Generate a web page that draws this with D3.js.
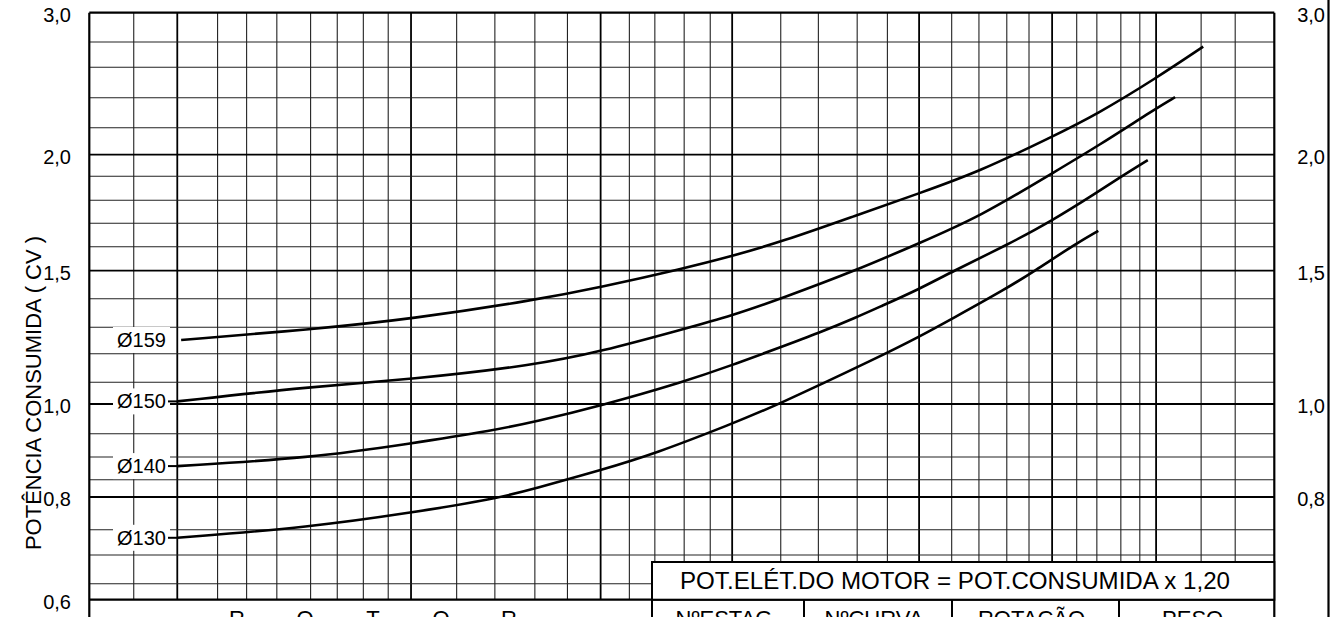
<!DOCTYPE html>
<html>
<head>
<meta charset="utf-8">
<script src="https://cdn.jsdelivr.net/npm/d3@7"></script>
<style>
  body { margin: 0; background: #fff; }
  svg text { font-family: "Liberation Sans", Arial, sans-serif; fill: #000; }
</style>
</head>
<body>
<div id="chart"></div>
<script>
// vertical lines of the chart paper (flow axis, no labels in this crop)
const qGrid = [0, 1.50, 2.97, 4.33, 5.31, 6.33, 7.47, 8.37, 9.25, 10.09, 10.86, 12.40, 13.69, 15.04, 16.14,
  17.26, 18.23, 19.09, 20.08, 20.96, 21.70, 23.34, 24.61, 25.92, 26.94, 28.01, 29.11, 30.03, 30.97, 31.72,
  32.50, 33.33, 34.01, 34.82, 35.46, 36.01, 37.53, 38.68, 40];
const qMajor = [2.97, 10.86, 17.26, 21.70, 28.01, 32.50, 36.01];

// horizontal lines (potência consumida, CV)
const potGrid = [3.0, 2.8, 2.6, 2.4, 2.2, 2.0, 1.9, 1.8, 1.7, 1.6, 1.5, 1.4, 1.3, 1.2, 1.1, 1.0,
  0.95, 0.9, 0.85, 0.8, 0.75, 0.7, 0.65, 0.6];
const potMajor = [2.0, 1.5, 1.0, 0.8];
const ticksLeft = [3.0, 2.0, 1.5, 1.0, 0.8, 0.6];
const ticksRight = [3.0, 2.0, 1.5, 1.0, 0.8];

// curves [Q, CV]
const d159 = [[3.10, 1.252], [7.48, 1.292], [10.86, 1.329], [15.04, 1.395], [17.26, 1.441], [20.08, 1.51],
  [21.70, 1.561], [23.34, 1.620], [25.92, 1.736], [28.01, 1.829], [30.03, 1.921], [32.50, 2.133],
  [34.01, 2.289], [36.01, 2.528], [37.60, 2.763]];
const d150 = [[2.97, 1.012], [7.48, 1.080], [10.86, 1.110], [15.04, 1.160], [17.26, 1.208], [20.08, 1.294],
  [21.70, 1.341], [23.34, 1.40], [25.92, 1.503], [28.01, 1.615], [30.06, 1.729], [32.50, 1.914],
  [34.01, 2.059], [36.01, 2.329], [36.65, 2.403]];
const d140 = [[2.97, 0.880], [7.48, 0.898], [10.86, 0.929], [13.69, 0.956], [15.04, 0.970], [17.26, 0.997],
  [20.08, 1.102], [21.70, 1.160], [23.34, 1.225], [24.61, 1.278], [25.92, 1.336], [26.69, 1.372],
  [28.01, 1.434], [29.11, 1.496], [30.97, 1.607], [32.50, 1.711], [34.01, 1.832], [34.82, 1.898], [35.73, 1.975]];
const d130 = [[2.97, 0.734], [7.48, 0.754], [10.86, 0.776], [13.69, 0.797], [15.04, 0.824], [17.26, 0.871],
  [19.09, 0.907], [21.70, 0.967], [23.08, 0.995], [26.69, 1.190], [28.01, 1.264], [29.11, 1.329],
  [30.97, 1.437], [31.86, 1.496], [33.33, 1.615], [34.06, 1.668]];

const curveNames = ["Ø159", "Ø150", "Ø140", "Ø130"];
const curveData = [d159, d150, d140, d130];

const tableTitle = "POT.ELÉT.DO MOTOR = POT.CONSUMIDA x 1,20";
const tableCols = ["NºESTAG", "NºCURVA", "ROTAÇÃO", "PESO"];
const tableLeft = "ROTOR";

const width = 1342, height = 617;
// the paper scale is not uniform, so y is piecewise over every printed line
const paperY = [12.7, 42, 67.3, 97.7, 127.7, 154.7, 176.3, 200.3, 223.3, 246.7, 270.7, 298.7, 327.3,
  353.7, 382.3, 404, 433.7, 457, 479.7, 497, 529.7, 555, 583.7, 599.7];

const x = d3.scaleLinear().domain([0, 40]).range([89.3, 1274.3]);
const y = d3.scaleLinear().domain(potGrid).range(paperY);
const fmt = v => v.toFixed(1).replace(".", ",");

const svg = d3.select("#chart").append("svg")
  .attr("width", width)
  .attr("height", height);

const x0 = x(0), x1 = x(40), yTop = y(3.0), yBot = y(0.6);

// grid
svg.append("g")
  .selectAll("line")
  .data(qGrid.slice(1, -1))
  .join("line")
  .attr("x1", d => x(d)).attr("x2", d => x(d))
  .attr("y1", yTop).attr("y2", yBot)
  .attr("stroke", d => qMajor.includes(d) ? "#000" : "#222")
  .attr("stroke-width", d => qMajor.includes(d) ? 1.8 : 1.1);

svg.append("g")
  .selectAll("line")
  .data(potGrid.slice(1, -1))
  .join("line")
  .attr("x1", x0).attr("x2", x1)
  .attr("y1", d => y(d)).attr("y2", d => y(d))
  .attr("stroke", d => potMajor.includes(d) ? "#000" : "#222")
  .attr("stroke-width", d => potMajor.includes(d) ? 1.8 : 1.1);

// frame
const frame = svg.append("g").attr("stroke", "#000").attr("stroke-width", 2.2);
frame.append("line").attr("x1", x0).attr("x2", x1).attr("y1", yTop).attr("y2", yTop);
frame.append("line").attr("x1", x0).attr("x2", x1).attr("y1", yBot).attr("y2", yBot);
frame.append("line").attr("x1", x0).attr("x2", x0).attr("y1", yTop).attr("y2", height);
frame.append("line").attr("x1", x1).attr("x2", x1).attr("y1", yTop).attr("y2", height);
frame.append("line").attr("x1", 1328.5).attr("x2", 1328.5).attr("y1", 0).attr("y2", height);

// tick labels
svg.append("g")
  .selectAll("text")
  .data(ticksLeft)
  .join("text")
  .attr("x", 71).attr("y", d => y(d) + 9)
  .attr("text-anchor", "end")
  .attr("font-size", 20)
  .text(fmt);

svg.append("g")
  .selectAll("text")
  .data(ticksRight)
  .join("text")
  .attr("x", 1325).attr("y", d => y(d) + 9)
  .attr("text-anchor", "end")
  .attr("font-size", 20)
  .text(fmt);

svg.append("text")
  .attr("transform", "translate(41,393) rotate(-90)")
  .attr("text-anchor", "middle")
  .attr("font-size", 22)
  .text("POTÊNCIA CONSUMIDA ( CV )");

// curves
const line = d3.line()
  .x(d => x(d[0]))
  .y(d => y(d[1]))
  .curve(d3.curveBasis);

svg.append("g")
  .selectAll("path")
  .data(curveData)
  .join("path")
  .attr("d", line)
  .attr("fill", "none")
  .attr("stroke", "#000")
  .attr("stroke-width", 2.6);

// curve labels
const lab = svg.append("g")
  .selectAll("g")
  .data(curveData)
  .join("g");

lab.append("rect")
  .attr("x", 113).attr("width", 57)
  .attr("y", d => y(d[0][1]) - 13).attr("height", 26)
  .attr("fill", "#fff");

lab.filter(d => d[0][0] < 3)
  .append("line")
  .attr("x1", 168).attr("x2", d => x(d[0][0]))
  .attr("y1", d => y(d[0][1])).attr("y2", d => y(d[0][1]))
  .attr("stroke", "#000").attr("stroke-width", 2);

lab.append("text")
  .attr("x", 166)
  .attr("y", d => y(d[0][1]) + 7)
  .attr("text-anchor", "end")
  .attr("font-size", 20)
  .text((d, i) => curveNames[i]);

// data block below the chart
const tb = svg.append("g");
tb.append("rect")
  .attr("x", 652).attr("y", 562)
  .attr("width", x1 - 652).attr("height", yBot - 562)
  .attr("fill", "#fff").attr("stroke", "#000").attr("stroke-width", 2);
tb.append("text")
  .attr("x", 955).attr("y", 589)
  .attr("text-anchor", "middle")
  .attr("font-size", 23)
  .attr("textLength", 550)
  .attr("lengthAdjust", "spacingAndGlyphs")
  .text(tableTitle);

const colEdges = [652, 804, 952, 1119, x1];
tb.append("line")
  .attr("x1", 652).attr("x2", 652)
  .attr("y1", 562).attr("y2", height)
  .attr("stroke", "#000").attr("stroke-width", 2);
tb.selectAll("line.div")
  .data(colEdges.slice(1, -1))
  .join("line")
  .attr("x1", d => d).attr("x2", d => d)
  .attr("y1", yBot).attr("y2", height)
  .attr("stroke", "#000").attr("stroke-width", 2);

tb.selectAll("text.col")
  .data(tableCols)
  .join("text")
  .attr("x", (d, i) => (colEdges[i] + colEdges[i + 1]) / 2 - 4)
  .attr("y", 626)
  .attr("text-anchor", "middle")
  .attr("font-size", 22)
  .text(d => d);

tb.selectAll("text.rotor")
  .data(tableLeft.split(""))
  .join("text")
  .attr("x", (d, i) => 373 + (i - 2) * 68)
  .attr("y", 626)
  .attr("text-anchor", "middle")
  .attr("font-size", 22)
  .text(d => d);
</script>
</body>
</html>
